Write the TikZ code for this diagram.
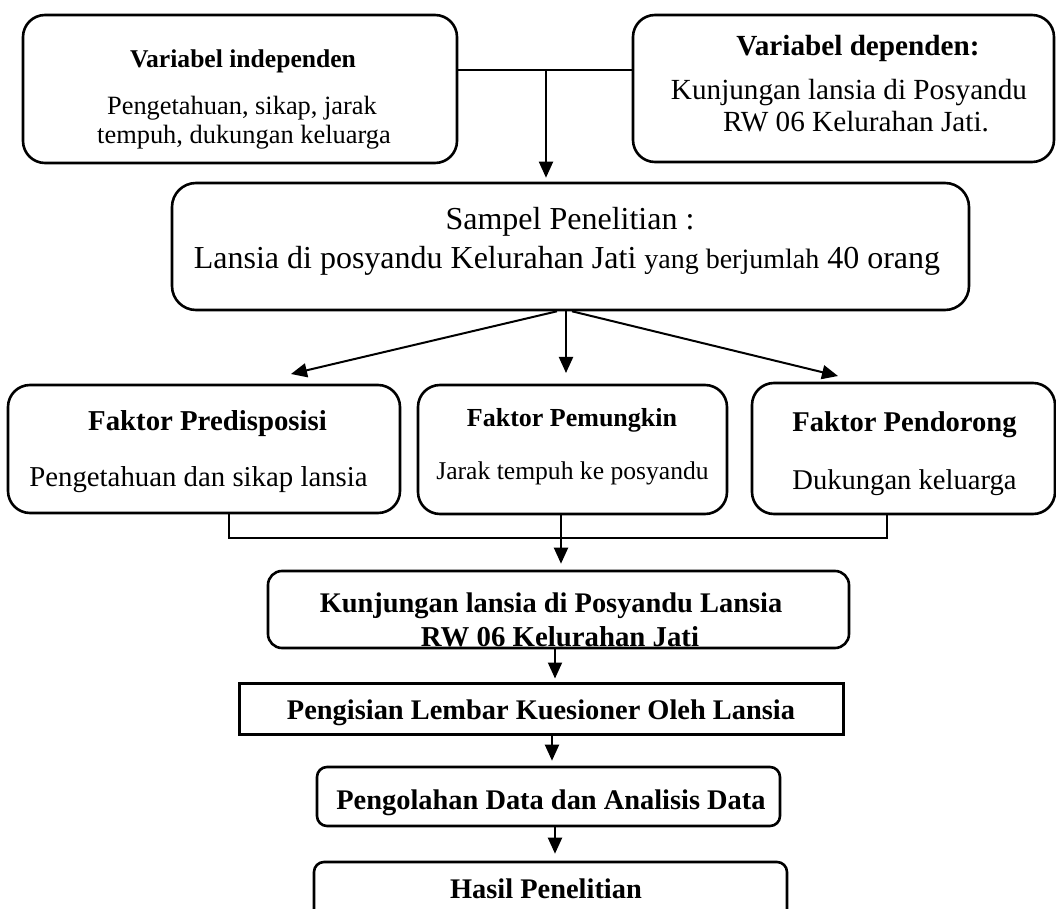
\documentclass[tikz,border=0pt]{standalone}
\usepackage{fontspec}
\setmainfont{Liberation Serif}
\usetikzlibrary{arrows.meta}
\usetikzlibrary{positioning}
\newcommand{\fsz}[1]{\fontsize{#1pt}{#1pt}\selectfont}

\begin{document}
\begin{tikzpicture}[
        x=0.5pt, y=-0.5pt,
        box/.style={draw, rounded corners=11pt, line width=1.3pt, inner sep=0pt},
        flatbox/.style={draw, line width=1.5pt, inner sep=0pt},
        txt/.style={anchor=base, inner sep=0pt},
        link/.style={line width=1pt},
        arr/.style={line width=1pt, -{Triangle[length=8pt,width=7pt]}}
        ]
    \useasboundingbox (0,0) rectangle (1056,909);
    \clip (0,0) rectangle (1056,909);

    \node[box, minimum width=217pt, minimum height=74pt] (vi) at (240,89) {};
    \node[box, minimum width=210.5pt, minimum height=73.5pt] (vd) at (843.5,88.5) {};
    \node[box, rounded corners=12pt, minimum width=398.5pt, minimum height=63.5pt] (sampel) at (570.5,246.5) {};
    \node[box, minimum width=196pt, minimum height=64pt] (fp) at (204,449) {};
    \node[box, minimum width=154.5pt, minimum height=64.5pt] (fm) at (572.5,449.5) {};
    \node[box, minimum width=151.5pt, minimum height=65.5pt] (fd) at (903.5,448.5) {};
    \node[box, rounded corners=7pt, minimum width=290.5pt, minimum height=38.5pt] (kunj) at (558.5,609.5) {};
    \node[flatbox, minimum width=302pt, minimum height=25.5pt] (isi) at (541,708.5) {};
    \node[box, rounded corners=5pt, minimum width=231.5pt, minimum height=29.5pt] (olah) at (548.5,796.5) {};
    \node[box, rounded corners=5pt, minimum width=236.5pt, minimum height=39pt] (hasil) at (550.5,901) {};

    \node[txt, font=\fsz{12.8}\bfseries] (vi-t) at (243,68) {Variabel independen};
    \node[txt, font=\fsz{13.2}] (vi-a) at (242,115) {Pengetahuan, sikap, jarak};
    \node[txt, font=\fsz{13.2}] (vi-b) at (244,144) {tempuh, dukungan keluarga};

    \node[txt, font=\fsz{14.6}\bfseries] (vd-t) at (858,56) {Variabel dependen:};
    \node[txt, font=\fsz{14.6}] (vd-a) at (849,100) {Kunjungan lansia di Posyandu};
    \node[txt, font=\fsz{14.6}] (vd-b) at (856,132) {RW 06 Kelurahan Jati.};

    \node[txt, font=\fsz{16}] (sp-a) at (570,230) {Sampel Penelitian :};
    \node[txt, font=\fsz{16}] (sp-b) at (567,269) {Lansia di posyandu Kelurahan Jati {\fsz{14}yang berjumlah} 40 orang};

    \node[txt, font=\fsz{14.4}\bfseries] (fp-t) at (207.5,430) {Faktor Predisposisi};
    \node[txt, font=\fsz{14.4}] (fp-a) at (198.5,487) {Pengetahuan dan sikap lansia};
    \node[txt, font=\fsz{13}\bfseries] (fm-t) at (572,427) {Faktor Pemungkin};
    \node[txt, font=\fsz{12.8}] (fm-a) at (572.5,480) {Jarak tempuh ke posyandu};
    \node[txt, font=\fsz{14.3}\bfseries] (fd-t) at (904.5,432) {Faktor Pendorong};
    \node[txt, font=\fsz{14.3}] (fd-a) at (904.5,489) {Dukungan keluarga};

    \node[txt, font=\fsz{14.2}\bfseries] (kunj-a) at (551,612) {Kunjungan lansia di Posyandu Lansia};
    \node[txt, font=\fsz{14.4}\bfseries] (kunj-b) at (560,646) {RW 06 Kelurahan Jati};
    \node[txt, font=\fsz{14.2}\bfseries] (isi-t) at (541,719) {Pengisian Lembar Kuesioner Oleh Lansia};
    \node[txt, font=\fsz{14.2}\bfseries] (olah-t) at (551,809) {Pengolahan Data dan Analisis Data};
    \node[txt, font=\fsz{14.2}\bfseries] (hasil-t) at (546,898) {Hasil Penelitian};

    \coordinate (j1) at (546,70);
    \coordinate (tp) at (291,374);
    \coordinate (tm) at (566,373);
    \coordinate (td) at (838,376);
    \coordinate (jb) at (561,538);
    \coordinate (g1) at (555,0);
    \coordinate (g2) at (552,0);

    \draw[link] (vi.east |- j1) -- (vd.west |- j1);
    \draw[arr, shorten >=2pt] (j1) -- (j1 |- sampel.north);

    \draw[arr] ([xshift=-6.75pt]sampel.south) -- (tp);
    \draw[arr] (sampel.south -| tm) -- (tm);
    \draw[arr] ([xshift=0.75pt]sampel.south) -- (td);

    \draw[link] ([xshift=12.5pt]fp.south) |- (jb) -| ([xshift=-8.25pt]fd.south);
    \draw[arr, shorten >=3pt] (fm.south -| jb) -- (kunj.north -| jb);

    \draw[arr, shorten >=1.5pt] (kunj.south -| g1) -- (isi.north -| g1);
    \draw[arr, shorten >=2.5pt] (isi.south -| g2) -- (olah.north -| g2);
    \draw[arr, shorten >=3.5pt] (olah.south -| g1) -- (hasil.north -| g1);
\end{tikzpicture}
\end{document}
